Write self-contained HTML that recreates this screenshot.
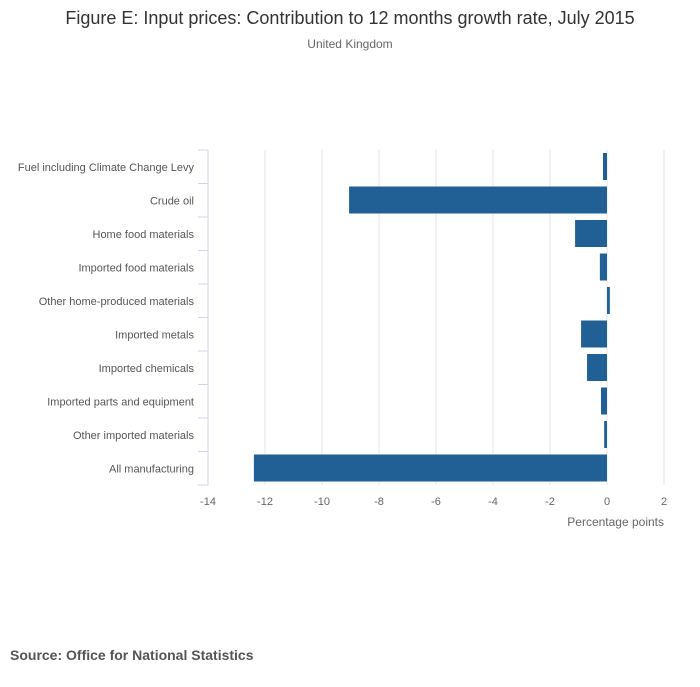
<!DOCTYPE html>
<html><head><meta charset="utf-8"><style>
body{margin:0;background:#fff;font-family:"Liberation Sans",sans-serif}
svg text{font-family:"Liberation Sans",sans-serif}
</style></head><body>
<svg width="700" height="682">
<text x="350" y="24" text-anchor="middle" font-size="18" fill="#333">Figure E: Input prices: Contribution to 12 months growth rate, July 2015</text>
<text x="350" y="48" text-anchor="middle" font-size="12" fill="#666">United Kingdom</text>
<g id="grid"></g><g id="bars"></g><g id="ylab"></g><g id="xlab"></g>
<text x="664" y="526" text-anchor="end" font-size="12" fill="#666">Percentage points</text>
<text x="10" y="660" font-size="14" font-weight="bold" fill="#555">Source: Office for National Statistics</text>
</svg>
<script>
const categories=["Fuel including Climate Change Levy","Crude oil","Home food materials","Imported food materials","Other home-produced materials","Imported metals","Imported chemicals","Imported parts and equipment","Other imported materials","All manufacturing"];
const values=[-0.14,-9.05,-1.12,-0.25,0.1,-0.91,-0.7,-0.21,-0.1,-12.39];
const ticks=[-14,-12,-10,-8,-6,-4,-2,0,2];
const NS="http://www.w3.org/2000/svg";
const x=v=>208+(v+14)*(456/16);
const plotTop=150,band=33.5;
function mk(p,t,a){const e=document.createElementNS(NS,t);for(const k in a)e.setAttribute(k,a[k]);document.getElementById(p).appendChild(e);return e;}
ticks.forEach(t=>{
 const l=mk('grid','line',{x1:x(t),x2:x(t),y1:plotTop,y2:plotTop+band*10,stroke:'#e6e6e6'});
 
 
 const tx=mk('xlab','text',{x:x(t),y:505,'text-anchor':'middle','font-size':11,fill:'#666'});
 tx.textContent=t;
 
 
});
const ax=mk('grid','line',{x1:208,x2:208,y1:plotTop,y2:plotTop+band*10,stroke:'#ccd6eb'});


for(let i=0;i<=10;i++){const tk=mk('grid','line',{x1:198,x2:208,y1:plotTop+band*i,y2:plotTop+band*i,stroke:'#ccd6eb'});
 
 }
categories.forEach((c,i)=>{
 const v=values[i];
 const r=mk('bars','rect',{x:Math.min(x(0),x(v)),y:plotTop+band*i+3,width:Math.max(Math.abs(x(v)-x(0)),1),height:27,fill:'#206095'});
 
 
 const t=mk('ylab','text',{x:194,y:plotTop+band*i+band/2+4,'text-anchor':'end','font-size':11,fill:'#555'});
 t.textContent=c;
 
 
});
</script>
</body></html>
